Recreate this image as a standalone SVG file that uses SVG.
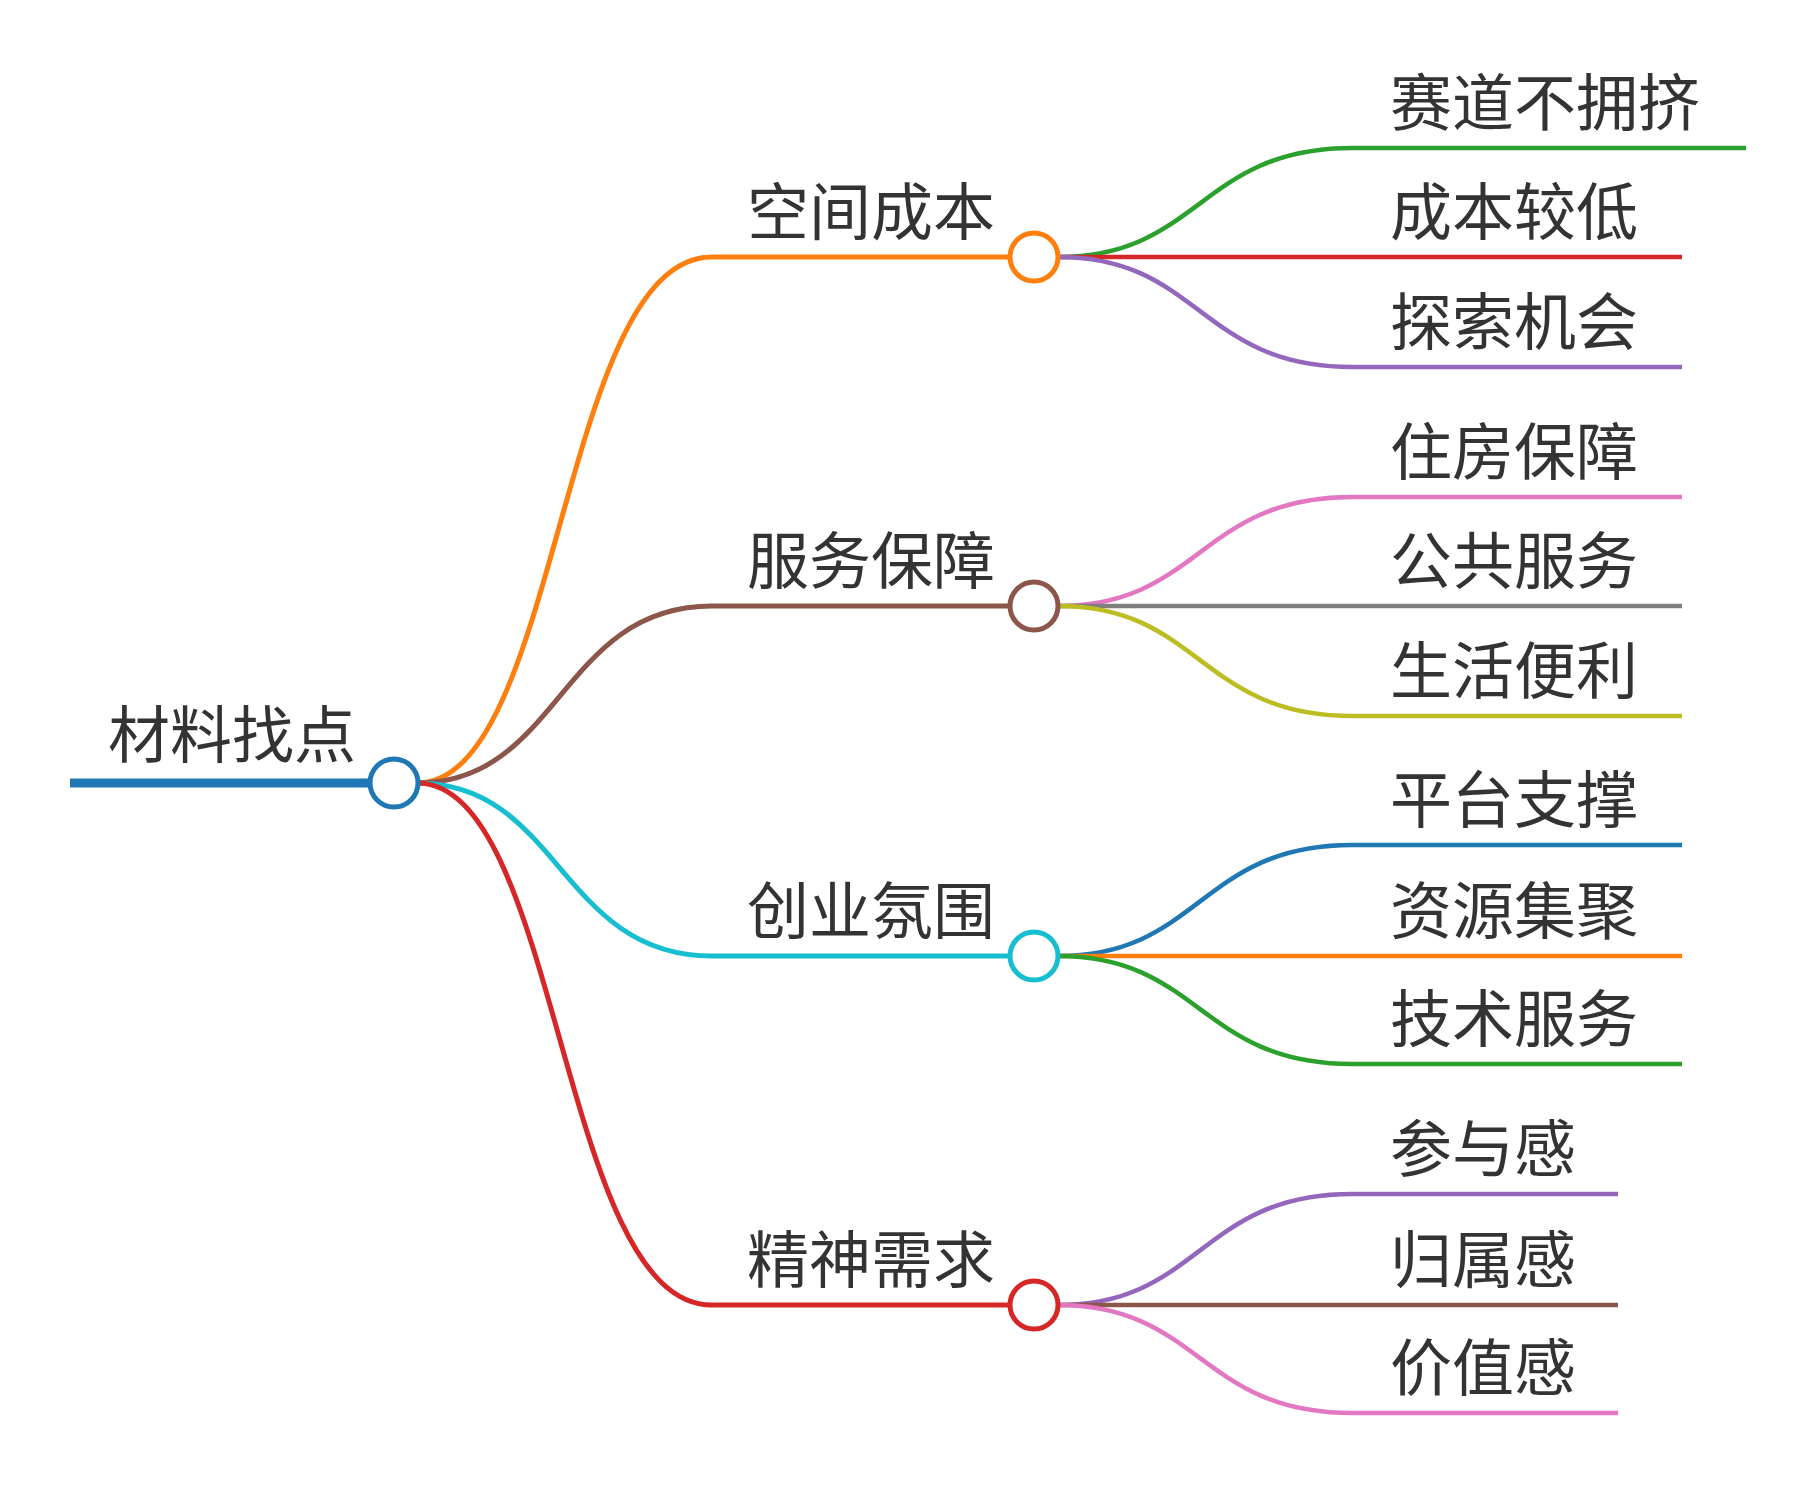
<svg xmlns="http://www.w3.org/2000/svg" width="1815" height="1485" viewBox="0 0 1815 1485">
<style>
text{font-family:"Noto Sans CJK SC","Noto Sans",sans-serif;font-size:62px;fill:#333}
path{fill:none}
.b{stroke-width:5}
.l{stroke-width:4.5}
circle{fill:#fff;stroke-width:5}
</style>
<rect width="1815" height="1485" fill="#fff"/>
<g id="connectors">
<path d="M70 783H394" stroke="#1f77b4" stroke-width="9"/>
<path class="b" stroke="#ff7f0e" d="M417 783C560 783 560 257 712 257H1010"/>
<path class="b" stroke="#8c564b" d="M417 783C560 783 560 606 712 606H1010"/>
<path class="b" stroke="#17becf" d="M417 783C560 783 560 956 712 956H1010"/>
<path class="b" stroke="#d62728" d="M417 783C560 783 560 1305 712 1305H1010"/>
<path class="l" stroke="#2ca02c" d="M1058 257C1200 257 1200 148 1352 148H1746"/>
<path class="l" stroke="#d62728" d="M1058 257C1200 257 1200 257 1352 257H1682"/>
<path class="l" stroke="#9467bd" d="M1058 257C1200 257 1200 367 1352 367H1682"/>
<path class="l" stroke="#e377c2" d="M1058 606C1200 606 1200 497 1352 497H1682"/>
<path class="l" stroke="#7f7f7f" d="M1058 606C1200 606 1200 606 1352 606H1682"/>
<path class="l" stroke="#bcbd22" d="M1058 606C1200 606 1200 716 1352 716H1682"/>
<path class="l" stroke="#1f77b4" d="M1058 956C1200 956 1200 845 1352 845H1682"/>
<path class="l" stroke="#ff7f0e" d="M1058 956C1200 956 1200 956 1352 956H1682"/>
<path class="l" stroke="#2ca02c" d="M1058 956C1200 956 1200 1064 1352 1064H1682"/>
<path class="l" stroke="#9467bd" d="M1058 1305C1200 1305 1200 1194 1352 1194H1618"/>
<path class="l" stroke="#8c564b" d="M1058 1305C1200 1305 1200 1305 1352 1305H1618"/>
<path class="l" stroke="#e377c2" d="M1058 1305C1200 1305 1200 1413 1352 1413H1618"/>
</g>
<g id="root"><text x="108" y="758">材料找点</text><circle cx="394" cy="783" r="24" stroke="#1f77b4"/></g>
<g id="n1"><text x="747" y="235">空间成本</text><circle cx="1034" cy="257" r="24" stroke="#ff7f0e"/></g>
<g id="n2"><text x="747" y="584">服务保障</text><circle cx="1034" cy="606" r="24" stroke="#8c564b"/></g>
<g id="n3"><text x="747" y="934">创业氛围</text><circle cx="1034" cy="956" r="24" stroke="#17becf"/></g>
<g id="n4"><text x="747" y="1283">精神需求</text><circle cx="1034" cy="1305" r="24" stroke="#d62728"/></g>
<g id="l1"><text x="1390" y="126">赛道不拥挤</text></g>
<g id="l2"><text x="1390" y="235">成本较低</text></g>
<g id="l3"><text x="1390" y="345">探索机会</text></g>
<g id="l4"><text x="1390" y="475">住房保障</text></g>
<g id="l5"><text x="1390" y="584">公共服务</text></g>
<g id="l6"><text x="1390" y="694">生活便利</text></g>
<g id="l7"><text x="1390" y="823">平台支撑</text></g>
<g id="l8"><text x="1390" y="934">资源集聚</text></g>
<g id="l9"><text x="1390" y="1042">技术服务</text></g>
<g id="l10"><text x="1390" y="1172">参与感</text></g>
<g id="l11"><text x="1390" y="1283">归属感</text></g>
<g id="l12"><text x="1390" y="1391">价值感</text></g>
</svg>
